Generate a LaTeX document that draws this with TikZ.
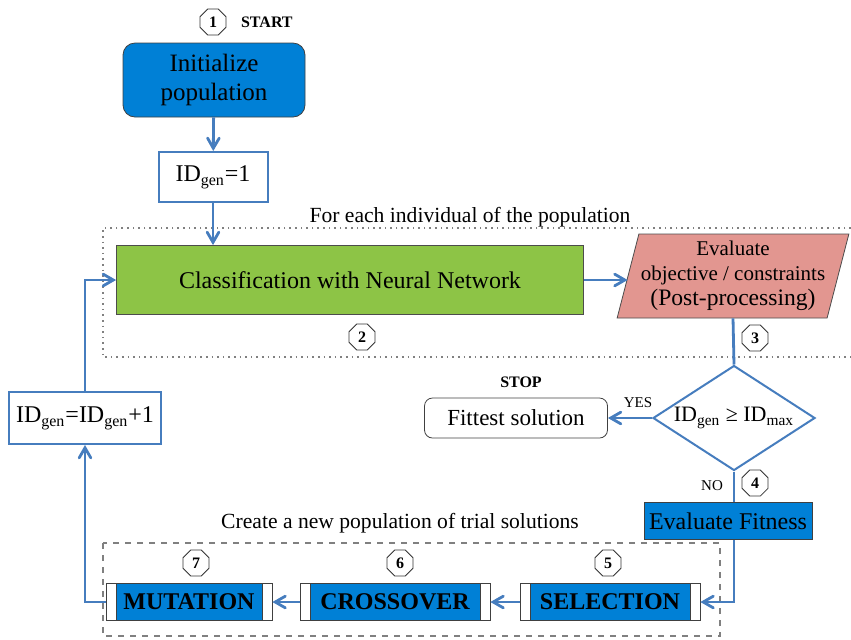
\documentclass[tikz,border=0pt]{standalone}
\usepackage{fontspec}
\setmainfont{Liberation Serif}
\usetikzlibrary{arrows,calc,shapes.geometric}
\definecolor{boxblue}{RGB}{0,128,214}
\definecolor{lineblue}{RGB}{70,125,190}
\definecolor{boxgreen}{RGB}{141,196,70}
\definecolor{boxpink}{RGB}{226,150,144}

\begin{document}
\begin{tikzpicture}[x=0.5pt,y=-0.5pt,>=angle 60,
  flow/.style={draw=lineblue,line width=1.4pt},
  blue node/.style={draw=black!75,fill=boxblue,align=center,inner sep=1pt,font=\fontsize{12}{14}\selectfont},
  id node/.style={draw=lineblue,line width=1pt,fill=white,font=\fontsize{12}{13}\selectfont},
  num node/.style={regular polygon,regular polygon sides=8,draw=black!80,minimum size=14pt,inner sep=0pt,font=\bfseries\fontsize{8}{8}\selectfont},
  op node/.style={blue node,minimum height=18.5pt,font=\bfseries\fontsize{12}{13}\selectfont,
    path picture={
      \fill[white] (path picture bounding box.north west) rectangle ([xshift=5pt]path picture bounding box.south west);
      \fill[white] (path picture bounding box.north east) rectangle ([xshift=-5pt]path picture bounding box.south east);
      \draw[black!75] ([xshift=5pt]path picture bounding box.north west) -- ([xshift=5pt]path picture bounding box.south west);
      \draw[black!75] ([xshift=-5pt]path picture bounding box.north east) -- ([xshift=-5pt]path picture bounding box.south east);}},
  small text/.style={font=\fontsize{7.5}{8}\selectfont},
  caption text/.style={font=\fontsize{10.8}{12}\selectfont}]

\useasboundingbox (0,0) rectangle (851,639);

% group frames
\draw[gray,dotted,line width=0.8pt] (851,228) -- (103,228) -- (103,357) -- (851,357);
\draw[gray,dashed,line width=0.6pt] (103,543) rectangle (720,636);
\node[caption text](cap1) at (470,217) {For each individual of the population};
\node[caption text](cap2) at (400,523) {Create a new population of trial solutions};

% boxes
\node[blue node,rounded corners=6pt,minimum width=91pt,minimum height=37pt,font=\fontsize{12.5}{14.5}\selectfont](init) at (214,80) {Initialize\\population};
\node[id node,minimum width=54.5pt,minimum height=25pt](gen1) at (213,177) {ID\textsubscript{gen}=1};
\node[draw=black!70,fill=boxgreen,minimum width=233.5pt,minimum height=34.5pt,font=\fontsize{12}{13}\selectfont](classify) at (350,280) {Classification with Neural Network};
\node[trapezium,trapezium left angle=73,trapezium right angle=107,trapezium stretches=true,draw=black!70,fill=boxpink,
  minimum width=116pt,minimum height=42pt,align=center,inner sep=0pt,font=\fontsize{10.5}{12.5}\selectfont](eval) at (733,276)
  {Evaluate\\objective / constraints\\{\fontsize{11.8}{12.5}\selectfont (Post-processing)}};
\node[diamond,aspect=1.55,draw=lineblue,line width=1pt,fill=white,minimum width=81pt,minimum height=52.5pt,inner sep=0pt,font=\fontsize{11}{12}\selectfont](dec) at (734,418)
  {ID\textsubscript{gen} ≥ ID\textsubscript{max}};
\node[draw=black!75,rounded corners=4pt,minimum width=91.5pt,minimum height=20pt,font=\fontsize{11.5}{12}\selectfont](fittest) at (516,418) {Fittest solution};
\node[blue node,minimum width=84pt,minimum height=18.5pt](fitness) at (728,521) {Evaluate Fitness};
\node[op node,minimum width=90pt](selection) at (610,602) {SELECTION};
\node[op node,minimum width=95pt](crossover) at (395,602) {CROSSOVER};
\node[op node,minimum width=83pt](mutation) at (189,602) {MUTATION};
\node[id node,minimum width=71.5pt,minimum height=26pt](genplus) at (85,418) {ID\textsubscript{gen}=ID\textsubscript{gen}+1};

% step numbers and labels
\node[num node](n1) at (213,22) {1};
\node[num node](n2) at (362,337) {2};
\node[num node](n3) at (755,338) {3};
\node[num node](n4) at (755,483) {4};
\node[num node](n5) at (608,563) {5};
\node[num node](n6) at (400,563) {6};
\node[num node](n7) at (196,563) {7};
\node[small text,font=\bfseries\fontsize{8}{8}\selectfont,anchor=west](start) at (234,22) {START};
\node[small text,font=\bfseries\fontsize{8}{8}\selectfont](stop) at (521,382) {STOP};
\node[small text](yes) at (638,403) {YES};
\node[small text](no) at (712,486) {NO};

% connectors
\path
(init) edge[flow,->] (gen1)
(gen1.south) edge[flow,->] (gen1.south |- classify.north)
(classify.east) edge[flow,->] (classify.east -| eval.west)
(eval.south) edge[flow] (dec.north)
(dec.west) edge[flow,->] (fittest.east)
(dec.south) edge[flow] (dec.south |- fitness.north)
(selection) edge[flow,->] (crossover)
(crossover) edge[flow,->] (mutation);
\draw[flow,->] (dec.south |- fitness.south) |- (selection.east);
\draw[flow,->] (mutation.west) -| (genplus.south);
\draw[flow,->] (genplus.north) |- (classify.west);

\end{tikzpicture}
\end{document}
